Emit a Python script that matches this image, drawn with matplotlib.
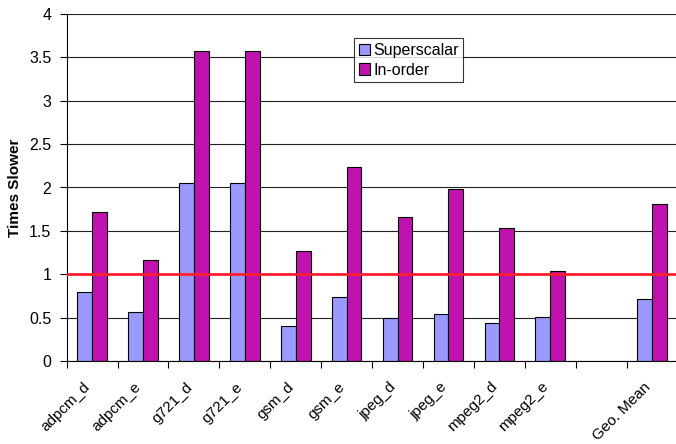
import numpy as np
import matplotlib
matplotlib.use("Agg")
import matplotlib.pyplot as plt
from matplotlib.transforms import ScaledTranslation

categories = ["adpcm_d", "adpcm_e", "g721_d", "g721_e", "gsm_d", "gsm_e",
              "jpeg_d", "jpeg_e", "mpeg2_d", "mpeg2_e", "", "Geo. Mean"]
superscalar = [0.79, 0.56, 2.05, 2.05, 0.40, 0.74, 0.49, 0.54, 0.44, 0.51, np.nan, 0.71]
inorder = [1.72, 1.17, 3.57, 3.57, 1.27, 2.24, 1.66, 1.98, 1.53, 1.04, np.nan, 1.81]
series_names = ["Superscalar", "In-order"]
baseline = 1.0
yticks = [0, 0.5, 1, 1.5, 2, 2.5, 3, 3.5, 4]
ytick_labels = ["0", "0.5", "1", "1.5", "2", "2.5", "3", "3.5", "4"]

plt.rcParams['font.family'] = ['Liberation Sans', 'DejaVu Sans']

fig = plt.figure(figsize=(6.76, 4.44), dpi=100)
ax = fig.add_axes([66.7 / 676, 1 - 361 / 444, (677.5 - 66.7) / 676, (361 - 14) / 444])

x = np.arange(len(categories))
w = 0.29
ax.bar(x - w / 2, superscalar, width=w, color="#9999ff", edgecolor="black",
       linewidth=0.8, label=series_names[0], zorder=2)
ax.bar(x + w / 2, inorder, width=w, color="#c012ae", edgecolor="black",
       linewidth=0.8, label=series_names[1], zorder=2)

ax.axhline(baseline, color="#ff1f2f", linewidth=2.0, zorder=3)

ax.set_xlim(-0.5, len(categories) - 0.5)
ax.set_ylim(0, 4)
ax.set_yticks(yticks)
ax.set_yticklabels(ytick_labels, fontsize=11.5)
ax.yaxis.grid(True, color="#222222", linewidth=0.8)
ax.set_axisbelow(True)

ax.set_xticks(np.arange(len(categories) + 1) - 0.5)
ax.set_xticklabels([])
ax.set_xticks(x, minor=True)
ax.set_xticklabels(categories, minor=True, rotation=45, ha="right",
                   rotation_mode="anchor", fontsize=11)
ax.tick_params(axis="x", which="minor", length=0, pad=12)
ax.tick_params(axis="x", which="major", length=5, direction="out", width=0.8)
ax.tick_params(axis="y", length=5, direction="out", width=0.8, pad=6)
offset = ScaledTranslation(-9 / 100, -2 / 100, fig.dpi_scale_trans)
for lbl in ax.get_xticklabels(minor=True):
    lbl.set_transform(lbl.get_transform() + offset)

for s in ["top", "right"]:
    ax.spines[s].set_visible(False)
ax.spines["left"].set_linewidth(0.8)
ax.spines["bottom"].set_linewidth(0.8)

ax.set_ylabel("Times Slower", fontsize=11, fontweight="bold", labelpad=5)

leg = ax.legend(loc="upper left", bbox_to_anchor=(354 / 676, 1 - 38 / 444),
                bbox_transform=fig.transFigure, frameon=True, fancybox=False,
                edgecolor="black", fontsize=11.5, handlelength=0.7, handleheight=0.7,
                handletextpad=0.2, borderpad=0.3, labelspacing=0.3, borderaxespad=0)
leg.get_frame().set_linewidth(0.8)

fig.savefig("out.png", dpi=100)
